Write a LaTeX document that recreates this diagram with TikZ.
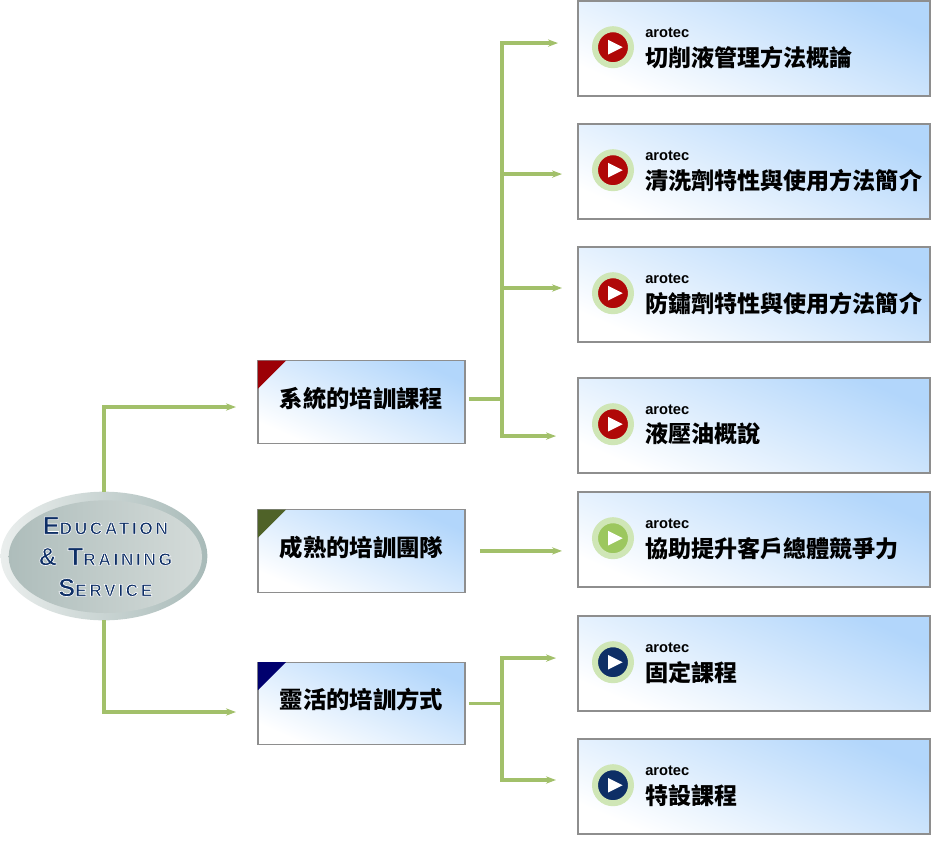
\documentclass[tikz,border=0pt]{standalone}
\usepackage{fontspec}
\usepackage{xcolor}
\usetikzlibrary{positioning,arrows.meta,shapes.geometric}
\setmainfont{Liberation Sans}
\newfontfamily\hantfont{Noto Sans CJK TC}
\newfontfamily\rootfont[LetterSpace=15]{Liberation Sans Bold}
\definecolor{wiregreen}{HTML}{A2C06A}
\definecolor{framegrey}{HTML}{8E8E8E}
\definecolor{skyblue}{HTML}{B2D6FB}
\definecolor{halogreen}{HTML}{CFE6B6}
\definecolor{rootnavy}{HTML}{0E2F66}
\definecolor{btnred}{HTML}{B00808}
\definecolor{btngreen}{HTML}{9CC75E}
\definecolor{cornerred}{HTML}{9C0006}
\definecolor{cornerolive}{HTML}{4F6228}
\definecolor{cornernavy}{HTML}{00006E}
\definecolor{rimlight}{HTML}{EAEEED}
\definecolor{rimdark}{HTML}{A8BAB8}
\definecolor{corelight}{HTML}{D4DBD9}
\definecolor{coredark}{HTML}{AEBDBB}
\tikzset{
    wire/.style={draw=wiregreen, line width=2.4pt, shorten >=#1, -{Stealth[length=7.5pt,width=5.5pt]}},
    stub/.style={draw=wiregreen, line width=2.4pt, shorten <=#1},
    card/.style={draw=framegrey, line width=0.9pt, inner sep=0pt, outer sep=0pt,
        minimum width=264pt, minimum height=71.25pt,
        bottom color=white, top color=skyblue, shading angle=-24},
    track/.style={card, minimum width=155.25pt, minimum height=62pt, text depth=7pt,
        font=\hantfont\bfseries\fontsize{17.5pt}{20pt}\selectfont},
    button/.style={circle, inner sep=0pt, outer sep=0pt, minimum size=27pt,
        fill=#1, draw=halogreen, line width=4.5pt,
        path picture={\fill[white] ([shift={(-3.75pt,5.5pt)}]path picture bounding box.center)
            -- ++(11pt,-5.5pt) -- ++(-11pt,-5.5pt) -- cycle;}},
    maker/.style={inner sep=0pt, font=\bfseries\fontsize{11pt}{12pt}\selectfont},
    title/.style={inner sep=0pt, font=\hantfont\bfseries\fontsize{17.3pt}{20pt}\selectfont},
    rootrim/.style={ellipse, inner sep=0pt, outer sep=0pt, minimum width=155pt, minimum height=96.5pt,
        left color=rimlight, right color=rimdark},
    rootcore/.style={ellipse, inner sep=0pt, minimum width=145pt, minimum height=81pt,
        left color=coredark, right color=corelight, align=center, text=rootnavy,
        font=\rootfont\fontsize{13pt}{23.25pt}\selectfont},
}
\newcommand{\rootline}[2]{\special{pdf:code 2 Tr 0.5 w 1 1 1 RG}{\fontsize{19pt}{23.25pt}\selectfont #1}#2\special{pdf:code 0 Tr}}

\begin{document}
\begin{tikzpicture}
    \useasboundingbox (0pt,0pt) rectangle (702pt,-630pt);

    % right column
    \node [card] (c1) at (565.5pt,-36.4pt) {};
    \node [card, below=21pt of c1] (c2) {};
    \node [card, below=21pt of c2] (c3) {};
    \node [card, below=27pt of c3] (c4) {};
    \node [card, below=14.25pt of c4] (c5) {};
    \node [card, below=21.75pt of c5] (c6) {};
    \node [card, below=21pt of c6] (c7) {};

    \node [button=btnred, right=26.25pt of c1.west, yshift=1pt, anchor=center] (b1) {};
    \node [button=btnred, right=26.25pt of c2.west, yshift=1pt, anchor=center] (b2) {};
    \node [button=btnred, right=26.25pt of c3.west, yshift=1pt, anchor=center] (b3) {};
    \node [button=btnred, right=26.25pt of c4.west, yshift=1pt, anchor=center] (b4) {};
    \node [button=btngreen, right=26.25pt of c5.west, yshift=1pt, anchor=center] (b5) {};
    \node [button=rootnavy, right=26.25pt of c6.west, yshift=1pt, anchor=center] (b6) {};
    \node [button=rootnavy, right=26.25pt of c7.west, yshift=1pt, anchor=center] (b7) {};

    \node [maker, right=24pt of b1.center, yshift=10.5pt] (m1) {arotec};
    \node [title, right=24pt of b1.center, yshift=-7.5pt] (t1) {切削液管理方法概論};
    \node [maker, right=24pt of b2.center, yshift=10.5pt] (m2) {arotec};
    \node [title, right=24pt of b2.center, yshift=-7.5pt] (t2) {清洗劑特性與使用方法簡介};
    \node [maker, right=24pt of b3.center, yshift=10.5pt] (m3) {arotec};
    \node [title, right=24pt of b3.center, yshift=-7.5pt] (t3) {防鏽劑特性與使用方法簡介};
    \node [maker, right=24pt of b4.center, yshift=10.5pt] (m4) {arotec};
    \node [title, right=24pt of b4.center, yshift=-7.5pt] (t4) {液壓油概說};
    \node [maker, right=24pt of b5.center, yshift=10.5pt] (m5) {arotec};
    \node [title, right=24pt of b5.center, yshift=-7.5pt] (t5) {協助提升客戶總體競爭力};
    \node [maker, right=24pt of b6.center, yshift=10.5pt] (m6) {arotec};
    \node [title, right=24pt of b6.center, yshift=-7.5pt] (t6) {固定課程};
    \node [maker, right=24pt of b7.center, yshift=10.5pt] (m7) {arotec};
    \node [title, right=24pt of b7.center, yshift=-7.5pt] (t7) {特設課程};

    % middle column
    \node [track] (sys) at (271.1pt,-301.5pt) {系統的培訓課程};
    \node [track] (team) at (271.1pt,-413.2pt) {成熟的培訓團隊};
    \node [track] (mode) at (271.1pt,-527.6pt) {靈活的培訓方式};
    \fill [cornerred] (sys.north west) -- ++(21pt,0pt) -- ++(-21pt,-21pt) -- cycle;
    \fill [cornerolive] (team.north west) -- ++(21pt,0pt) -- ++(-21pt,-21pt) -- cycle;
    \fill [cornernavy] (mode.north west) -- ++(21pt,0pt) -- ++(-21pt,-21pt) -- cycle;

    % connectors
    \coordinate [right=27.75pt of sys.east, yshift=2.25pt] (forka);
    \coordinate [right=27.75pt of mode.east] (forkb);
    \draw [stub=3pt] ([yshift=2.25pt]sys.east) -- (forka);
    \draw [stub=3pt] (mode.east) -- (forkb);
    \draw [wire=15pt] (forka) |- ([yshift=4.1pt]c1.west);
    \draw [wire=12pt] (forka) |- ([yshift=-1.9pt]c2.west);
    \draw [wire=12pt] (forka) |- ([yshift=4.9pt]c3.west);
    \draw [wire=16.5pt] (forka) |- ([yshift=-7.9pt]c4.west);
    \draw [wire=12pt, shorten <=11.25pt] (team.east) -- (team.east -| c5.west);
    \draw [wire=16.5pt] (forkb) |- ([yshift=4.1pt]c6.west);
    \draw [wire=16.5pt] (forkb) |- ([yshift=4.9pt]c7.west);

    % root
    \node [rootrim] (root) at (78pt,-417pt) {};
    \node [rootcore, xshift=1pt, yshift=-0.5pt] (core) at (root.center) {\rootline{E}{DUCATION}\\\rootline{\&\ T}{RAINING}\\\rootline{S}{ERVICE}};
    \draw [wire=16.5pt] (root.north) |- ([yshift=-3.75pt]sys.west);
    \draw [wire=16.5pt] (root.south) |- ([yshift=-6.4pt]mode.west);
\end{tikzpicture}
\end{document}
